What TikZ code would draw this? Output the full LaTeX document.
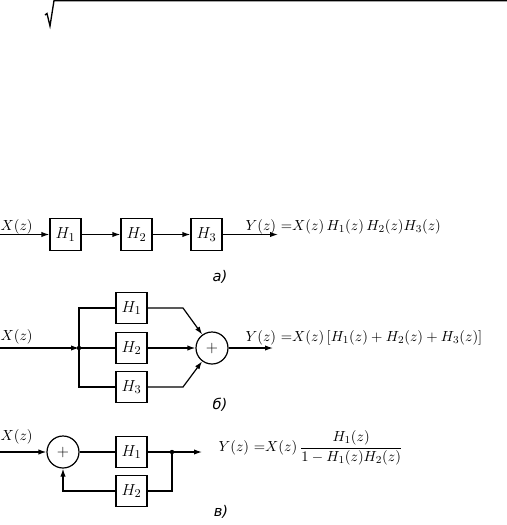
\documentclass[tikz,border=0pt]{standalone}
\usepackage{fontspec}
\usepackage{amsmath}
\newfontfamily\cyrfont{DejaVu Sans}
\usetikzlibrary{arrows.meta}
\begin{document}
\begin{tikzpicture}[x=0.75pt,y=-0.75pt,
  every node/.style={font=\fontsize{11}{13}\selectfont},
  line width=0.9pt,
  blk/.style={draw,minimum width=23.25pt,minimum height=23.5pt,inner sep=0pt,font=\fontsize{12.5}{14}\selectfont},
  sumnode/.style={draw,circle,minimum size=24pt,inner sep=0pt,font=\fontsize{13}{14}\selectfont},
  arr/.style={-{Latex[length=6pt,width=4pt]}},
  txt/.style={inner sep=0pt,anchor=base west},
  lab/.style={inner sep=0pt,font=\cyrfont\itshape\fontsize{11}{13}\selectfont}]
\useasboundingbox (0,0) rectangle (507,525);
% fragment of a root sign at top
\draw[line width=1pt] (45,15) -- (47,13.5) -- (50,26) -- (54,0.6) -- (507,0.6);

% ---------- a) ----------
\coordinate (ain) at (0,234.5);
\node[blk] (a1) at (65.5,234.5) {$H_1$};
\node[blk] (a2) at (136.5,234.5) {$H_2$};
\node[blk] (a3) at (206.5,234.5) {$H_3$};
\coordinate (aout) at (278,234.5);
\draw[arr] (ain) -- (a1);
\draw[arr] (a1) -- (a2);
\draw[arr] (a2) -- (a3);
\draw[arr] (a3) -- (aout);
\node[txt] (ax) at (0,230) {$X(z)$};
\node[txt] (ay) at (245,230) {$Y(z)\ {=}X(z)\,H_1(z)\,H_2(z)H_3(z)$};
\node[lab] (alab) at (220,277) {а)};

% ---------- b) ----------
\coordinate (bin) at (0,348);
\coordinate (bsp) at (79,348);
\node[blk] (b1) at (131.5,308) {$H_1$};
\node[blk] (b2) at (131.5,348) {$H_2$};
\node[blk] (b3) at (131.5,387) {$H_3$};
\node[sumnode] (bsum) at (212,348) {$+$};
\coordinate (bk1) at (183,308);
\coordinate (bk3) at (183,387);
\coordinate (bout) at (273,348);
\draw[arr] (bin) -- (bsp);
\draw (bsp) -- (b2);
\draw (bsp) |- (b1);
\draw (bsp) |- (b3);
\fill (bsp) circle (2.2);
\draw[arr] (b1) -- (bk1) -- (bsum);
\draw[arr] (b2) -- (bsum);
\draw[arr] (b3) -- (bk3) -- (bsum);
\draw[arr] (bsum) -- (bout);
\node[txt] (bx) at (0,340) {$X(z)$};
\node[txt] (by) at (245,341) {$Y(z)\ {=}X(z)\,[H_1(z)+H_2(z)+H_3(z)]$};
\node[lab] (blab) at (220,405) {б)};

% ---------- c) ----------
\coordinate (cin) at (0,452);
\node[sumnode] (csum) at (63,452) {$+$};
\node[blk] (c1) at (131.5,452) {$H_1$};
\node[blk] (c2) at (131.5,491) {$H_2$};
\coordinate (cdot) at (172,452);
\coordinate (cout) at (202,452);
\draw[arr] (cin) -- (csum);
\draw (csum) -- (c1);
\draw (c1) -- (cdot);
\draw[arr] (cdot) -- (cout);
\draw (cdot) |- (c2);
\draw[arr] (c2) -| (csum);
\fill (cdot) circle (2.2);
\node[txt] (cx) at (0,440) {$X(z)$};
\node[inner sep=0pt,anchor=west] (cy) at (218,448) {$Y(z)\ {=}X(z)\,\dfrac{H_1(z)}{1-H_1(z)H_2(z)}$};
\node[lab] (clab) at (221,512) {в)};
\end{tikzpicture}
\end{document}
